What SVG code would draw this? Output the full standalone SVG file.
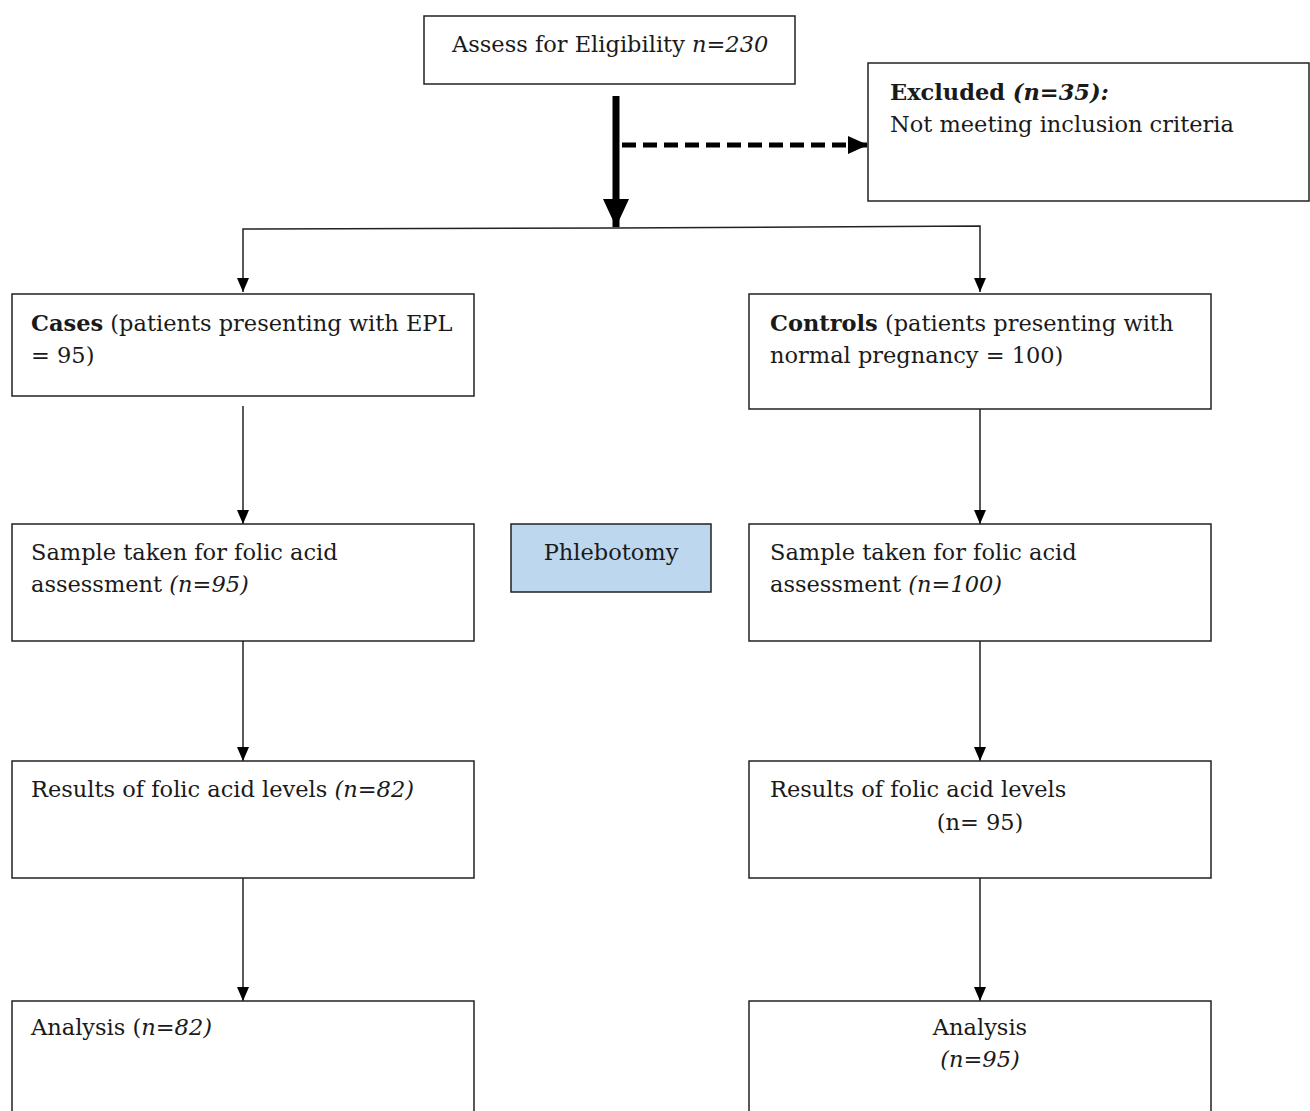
<svg xmlns="http://www.w3.org/2000/svg" width="1310" height="1111" viewBox="0 0 1310 1111">
  <style>
    .box { fill: #ffffff; stroke: #222222; stroke-width: 1.5; }
    .blue { fill: #bdd7ee; stroke: #222222; stroke-width: 1.5; }
    .t { font-family: "DejaVu Serif", "Liberation Serif", serif; font-size: 22.5px; fill: #1a1a1a; }
    .b { font-weight: bold; }
    .i { font-style: italic; }
    .thin { fill: none; stroke: #222222; stroke-width: 1.5; }
    .thick { fill: none; stroke: #000000; stroke-width: 7; }
    .dash { fill: none; stroke: #000000; stroke-width: 5; stroke-dasharray: 14 7; }
  </style>
  <defs>
    <marker id="ah" markerUnits="userSpaceOnUse" markerWidth="14" markerHeight="12" refX="14" refY="6" orient="auto">
      <path d="M0,0 L14,6 L0,12 Z" fill="#000000"/>
    </marker>
    <marker id="ahThick" markerUnits="userSpaceOnUse" markerWidth="28" markerHeight="26" refX="28" refY="13" orient="auto">
      <path d="M0,0 L28,13 L0,26 Z" fill="#000000"/>
    </marker>
    <marker id="ahDash" markerUnits="userSpaceOnUse" markerWidth="20" markerHeight="18" refX="20" refY="9" orient="auto">
      <path d="M0,0 L20,9 L0,18 Z" fill="#000000"/>
    </marker>
  </defs>

  <g id="connectors">
    <line class="thick" x1="616" y1="96" x2="616" y2="227" marker-end="url(#ahThick)"/>
    <line class="dash" x1="622" y1="145" x2="868" y2="145" marker-end="url(#ahDash)"/>
    <polyline class="thin" points="616,228 243,229 243,292" marker-end="url(#ah)"/>
    <polyline class="thin" points="616,228 980,226 980,292" marker-end="url(#ah)"/>
    <line class="thin" x1="243" y1="406" x2="243" y2="524" marker-end="url(#ah)"/>
    <line class="thin" x1="980" y1="409" x2="980" y2="524" marker-end="url(#ah)"/>
    <line class="thin" x1="243" y1="641" x2="243" y2="761" marker-end="url(#ah)"/>
    <line class="thin" x1="980" y1="641" x2="980" y2="761" marker-end="url(#ah)"/>
    <line class="thin" x1="243" y1="878" x2="243" y2="1001" marker-end="url(#ah)"/>
    <line class="thin" x1="980" y1="875" x2="980" y2="1001" marker-end="url(#ah)"/>
  </g>

  <g id="node-eligibility">
    <rect class="box" x="424" y="16" width="371" height="68"/>
    <text class="t" x="452" y="52">Assess for Eligibility <tspan class="i">n=230</tspan></text>
  </g>

  <g id="node-excluded">
    <rect class="box" x="868" y="63" width="441" height="138"/>
    <text class="t" x="890" y="100"><tspan class="b">Excluded </tspan><tspan class="b i">(n=35):</tspan></text>
    <text class="t" x="890" y="132">Not meeting inclusion criteria</text>
  </g>

  <g id="node-cases">
    <rect class="box" x="12" y="294" width="462" height="102"/>
    <text class="t" x="31" y="331"><tspan class="b">Cases</tspan> (patients presenting with EPL</text>
    <text class="t" x="31" y="363">= 95)</text>
  </g>

  <g id="node-controls">
    <rect class="box" x="749" y="294" width="462" height="115"/>
    <text class="t" x="770" y="331"><tspan class="b">Controls</tspan> (patients presenting with</text>
    <text class="t" x="770" y="363">normal pregnancy = 100)</text>
  </g>

  <g id="node-sample-cases">
    <rect class="box" x="12" y="524" width="462" height="117"/>
    <text class="t" x="31" y="560">Sample taken for folic acid</text>
    <text class="t" x="31" y="592">assessment <tspan class="i">(n=95)</tspan></text>
  </g>

  <g id="node-phlebotomy">
    <rect class="blue" x="511" y="524" width="200" height="68"/>
    <text class="t" x="611" y="560" text-anchor="middle">Phlebotomy</text>
  </g>

  <g id="node-sample-controls">
    <rect class="box" x="749" y="524" width="462" height="117"/>
    <text class="t" x="770" y="560">Sample taken for folic acid</text>
    <text class="t" x="770" y="592">assessment <tspan class="i">(n=100)</tspan></text>
  </g>

  <g id="node-results-cases">
    <rect class="box" x="12" y="761" width="462" height="117"/>
    <text class="t" x="31" y="797">Results of folic acid levels <tspan class="i">(n=82)</tspan></text>
  </g>

  <g id="node-results-controls">
    <rect class="box" x="749" y="761" width="462" height="117"/>
    <text class="t" x="770" y="797">Results of folic acid levels</text>
    <text class="t" x="980" y="830" text-anchor="middle">(n= 95)</text>
  </g>

  <g id="node-analysis-cases">
    <rect class="box" x="12" y="1001" width="462" height="120"/>
    <text class="t" x="31" y="1035">Analysis (<tspan class="i">n=82)</tspan></text>
  </g>

  <g id="node-analysis-controls">
    <rect class="box" x="749" y="1001" width="462" height="120"/>
    <text class="t" x="980" y="1035" text-anchor="middle">Analysis</text>
    <text class="t i" x="980" y="1067" text-anchor="middle">(n=95)</text>
  </g>
</svg>
